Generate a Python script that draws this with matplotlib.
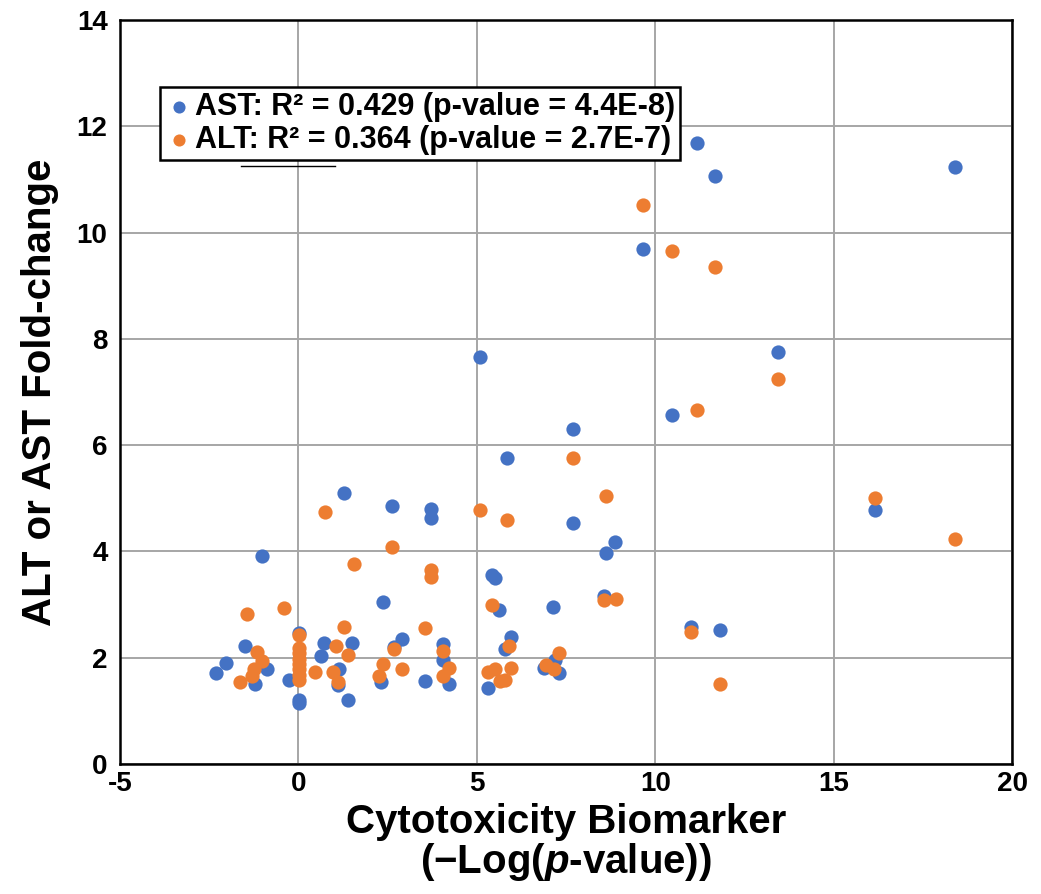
import matplotlib.pyplot as plt
from matplotlib.lines import Line2D

plt.rcParams['font.family'] = ['Liberation Sans', 'DejaVu Sans']
plt.rcParams['font.weight'] = 'bold'
plt.rcParams['axes.unicode_minus'] = False
plt.rcParams['mathtext.fontset'] = 'custom'
plt.rcParams['mathtext.it'] = 'Liberation Sans:italic:bold'
plt.rcParams['mathtext.rm'] = 'Liberation Sans:bold'

# AST series (x = -log p of cytotoxicity biomarker, y = fold-change)
ast_x = [-2.31, -2.04, -1.50, -1.22, -1.01, -0.89, -0.26, 0.02, 0.02, 0.02,
         0.63, 0.72, 1.13, 1.10, 1.27, 1.38, 1.49, 2.31, 2.36, 2.63,
         2.69, 2.90, 3.56, 3.72, 3.72, 4.05, 4.05, 4.21, 5.08, 5.30,
         5.41, 5.52, 5.62, 5.78, 5.84, 5.95, 6.89, 7.14, 7.19, 7.31,
         7.69, 7.69, 8.55, 8.61, 8.88, 9.65, 10.46, 11.01, 11.17, 11.66,
         11.82, 13.45, 16.17, 18.40]
ast_y = [1.72, 1.91, 2.23, 1.51, 3.91, 1.79, 1.59, 2.47, 1.21, 1.14,
         2.03, 2.28, 1.79, 1.48, 5.10, 1.21, 2.28, 1.54, 3.04, 4.85,
         2.20, 2.35, 1.57, 4.79, 4.63, 2.25, 1.95, 1.51, 7.65, 1.43,
         3.55, 3.50, 2.89, 2.17, 5.76, 2.39, 1.81, 2.96, 1.96, 1.72,
         6.31, 4.53, 3.16, 3.98, 4.17, 9.69, 6.56, 2.58, 11.69, 11.06,
         2.52, 7.76, 4.78, 11.24]

# ALT series
alt_x = [-1.65, -1.43, -1.31, -1.25, -1.17, -1.01, -0.41, 0.02, 0.02, 0.02,
         0.02, 0.02, 0.02, 0.02, 0.02, 0.46, 0.73, 0.96, 1.05, 1.10,
         1.27, 1.38, 1.55, 2.27, 2.36, 2.63, 2.69, 2.91, 3.56, 3.72,
         3.72, 4.05, 4.05, 4.21, 5.08, 5.30, 5.41, 5.52, 5.64, 5.80,
         5.84, 5.90, 5.95, 6.93, 7.17, 7.30, 7.69, 8.55, 8.61, 8.90,
         9.65, 10.46, 11.01, 11.17, 11.66, 11.82, 13.45, 16.17, 18.40]
alt_y = [1.54, 2.82, 1.66, 1.79, 2.10, 1.93, 2.93, 2.42, 2.19, 2.08,
         1.98, 1.88, 1.78, 1.68, 1.58, 1.73, 4.75, 1.74, 2.23, 1.54,
         2.57, 2.06, 3.77, 1.66, 1.88, 4.09, 2.17, 1.79, 2.56, 3.66,
         3.52, 2.13, 1.66, 1.81, 4.78, 1.73, 3.00, 1.78, 1.57, 1.59,
         4.60, 2.23, 1.81, 1.87, 1.79, 2.09, 5.76, 3.08, 5.04, 3.11,
         10.51, 9.65, 2.49, 6.67, 9.35, 1.51, 7.25, 5.00, 4.24]

ast_label = 'AST: R\u00b2 = 0.429 (p-value = 4.4E-8)'
alt_label = 'ALT: R\u00b2 = 0.364 (p-value = 2.7E-7)'

fig = plt.figure(figsize=(10.41, 8.94), dpi=100)
ax = fig.add_axes([0.1153, 0.1454, 0.857, 0.8322])

ax.scatter(ast_x, ast_y, s=105, color='#4472C4', linewidths=0, label=ast_label, zorder=3)
ax.scatter(alt_x, alt_y, s=105, color='#ED7D31', linewidths=0, label=alt_label, zorder=3)

ax.set_xlim(-5, 20)
ax.set_ylim(0, 14)
ax.set_xticks(range(-5, 21, 5))
ax.set_yticks(range(0, 15, 2))
ax.grid(True, color='#A6A6A6', linewidth=1.4)
ax.set_axisbelow(True)
ax.tick_params(length=0, labelsize=20)
ax.tick_params(axis='y', pad=9)
ax.tick_params(axis='x', pad=5)
for sp in ax.spines.values():
    sp.set_linewidth(1.8)
    sp.set_color('black')

ax.set_ylabel('ALT or AST Fold-change', fontsize=29, fontweight='bold', labelpad=13)
ax.set_xlabel('Cytotoxicity Biomarker\n(\u2212Log($\\mathit{p}$-value))', fontsize=29,
              fontweight='bold', labelpad=4, linespacing=1.0)

leg = ax.legend(loc='upper left', bbox_to_anchor=(0.045, 0.91), fontsize=22,
                frameon=True, fancybox=False, edgecolor='black', framealpha=1,
                handletextpad=0.1, handlelength=0.9, borderpad=0.15,
                labelspacing=0.12, markerscale=0.85, borderaxespad=0)
leg.get_frame().set_linewidth(1.8)

# stray line under the legend box in the original
fig.add_artist(Line2D([241 / 1041, 335 / 1041], [1 - 166 / 894] * 2, color='black', lw=1))

fig.savefig('out.png', dpi=100)
